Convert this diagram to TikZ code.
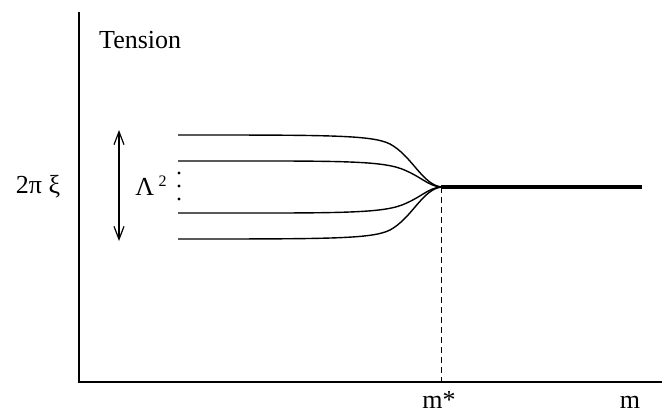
\documentclass[tikz,border=0pt]{standalone}
\usepackage{fontspec}
\setmainfont{Liberation Serif}
\usetikzlibrary{arrows.meta}
\begin{document}
\begin{tikzpicture}[x=1pt,y=-1pt,
  lbl/.style={inner sep=0pt,font=\fontsize{26}{30}\selectfont},
  curve/.style={line width=1.4pt},
  axis/.style={line width=1.5pt}]
\useasboundingbox (0,0) rectangle (671,414);
% axes
\coordinate (ytop) at (79,12);
\coordinate (org) at (79,382);
\coordinate (xend) at (662,382);
\draw[axis] (ytop) -- (org) -- (xend);
% convergence point
\coordinate (c) at (441,187);
\coordinate (cend) at (642,187);
\coordinate (cfoot) at (441,382);
\draw[line width=4pt] (c) -- (cend);
\draw[dashed,line width=0.8pt,dash pattern=on 6pt off 4pt] (c) -- (cfoot);
% curves
\coordinate (s1) at (178,135);
\coordinate (s2) at (178,161);
\coordinate (s3) at (178,213);
\coordinate (s4) at (178,239);
\draw[curve] (s1) .. controls (330,135) and (372,135) .. (390,144) .. controls (412,156) and (422,184) .. (c);
\draw[curve] (s2) .. controls (330,161) and (378,160) .. (402,169) .. controls (422,177) and (428,186) .. (c);
\draw[curve] (s3) .. controls (330,213) and (378,214) .. (402,205) .. controls (422,197) and (428,188) .. (c);
\draw[curve] (s4) .. controls (330,239) and (372,239) .. (390,230) .. controls (412,218) and (422,190) .. (c);
% arrow
\coordinate (at) at (119,130);
\coordinate (ab) at (119,241);
\draw[line width=1.8pt,{Straight Barb[length=13pt,width=10pt,line width=1.2pt]}-{Straight Barb[length=13pt,width=10pt,line width=1.2pt]}] (at) -- (ab);
% dots
\foreach \yy/\nn in {173/d1,186/d2,199/d3} \fill (179,\yy) circle (1.6pt) coordinate (\nn);
% labels
\node[lbl] (lam) at (151,186) {Λ\,\raisebox{9pt}{\fontsize{16}{19}\selectfont 2}};
\node[lbl] (xi) at (38,187) {2π ξ};
\node[lbl,anchor=base west] (ten) at (99,49) {Tension};
\node[lbl,anchor=base] (ms) at (439,408) {m*};
\node[lbl,anchor=base] (mm) at (630,408) {m};
\end{tikzpicture}
\end{document}
